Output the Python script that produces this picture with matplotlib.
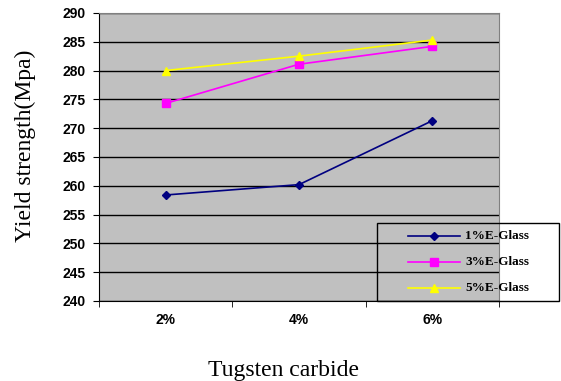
import matplotlib.pyplot as plt
from matplotlib.patches import Rectangle
from matplotlib.lines import Line2D

# 数据
categories = ['2%', '4%', '6%']
glass_1 = [258.4, 260.2, 271.3]
glass_3 = [274.3, 281.1, 284.2]
glass_5 = [280.0, 282.5, 285.3]
y_ticks = list(range(240, 291, 5))

series = [
    ('1%E-Glass', glass_1, '#000080', 'D', 4),
    ('3%E-Glass', glass_3, '#FF00FF', 's', 5.5),
    ('5%E-Glass', glass_5, '#FFFF00', '^', 6),
]

fig = plt.figure(figsize=(5.61, 3.81), dpi=100)
ax = fig.add_axes([0.1765, 0.21, 0.713, 0.756])
ax.set_facecolor('#C0C0C0')

x = range(len(categories))
for name, vals, color, mk, ms in series:
    ax.plot(x, vals, color=color, marker=mk, markersize=ms, lw=1.2, label=name)

ax.set_ylim(240, 290)
ax.set_yticks(y_ticks)
ax.set_xlim(-0.5, 2.5)
ax.set_xticks(list(x))
ax.set_xticklabels(categories)
ax.set_xticks([-0.5, 0.5, 1.5, 2.5], minor=True)
ax.tick_params(axis='x', which='major', length=0, pad=9)
ax.tick_params(axis='x', which='minor', length=4, direction='out', color='black')
ax.tick_params(axis='y', length=4, direction='out', color='black', pad=6)
for lab in ax.get_xticklabels() + ax.get_yticklabels():
    lab.set_fontfamily('Liberation Sans')
    lab.set_fontweight('bold')
    lab.set_fontsize(10)

ax.grid(axis='y', color='black', lw=1)
ax.set_axisbelow(True)
for s in ['top', 'right']:
    ax.spines[s].set_color('#808080')
for s in ['left', 'bottom']:
    ax.spines[s].set_color('black')

# 轴标题
fig.text(0.045, 0.617, 'Yield strength(Mpa)', fontfamily='Liberation Serif', fontsize=17,
         rotation=90, ha='center', va='center')
fig.text(0.505, 0.013, 'Tugsten carbide', fontfamily='Liberation Serif', fontsize=17,
         ha='center', va='baseline')

# 图例（手工绘制，透明背景，网格线可见）
W, H = 561, 381
box = Rectangle((377 / W, 1 - 301 / H), 182 / W, 78 / H, transform=fig.transFigure,
                facecolor='none', edgecolor='black', lw=1, zorder=5)
fig.add_artist(box)
for i, (name, vals, color, mk, ms) in enumerate(series):
    yy = 1 - (236 + 26 * i) / H
    fig.add_artist(Line2D([408 / W, 434 / W, 460 / W], [yy, yy, yy], color=color, lw=1.2,
                          marker=mk, markersize=ms, markevery=[1],
                          transform=fig.transFigure, zorder=5))
    fig.text(465 / W, yy, name, fontfamily='Liberation Serif', fontweight='bold',
             fontsize=9.5, va='center', ha='left', zorder=5)

plt.savefig('out.png', dpi=100)
plt.close()
